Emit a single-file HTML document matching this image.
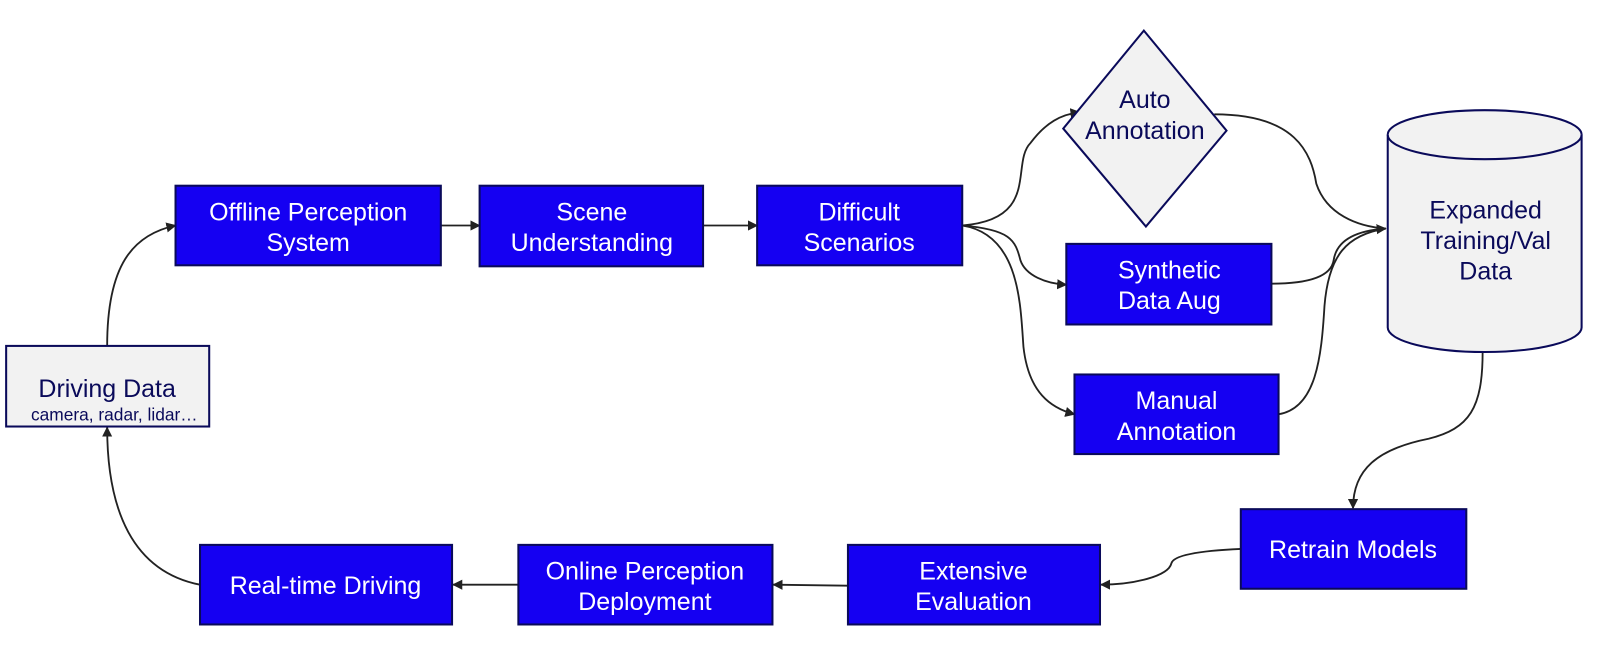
<!DOCTYPE html>
<html><head><meta charset="utf-8"><style>
body{margin:0;background:#fff;}
svg{display:block;}
text{font-family:"Liberation Sans",sans-serif;}
.b{fill:#1500f2;stroke:#0a0a5a;stroke-width:2;}
.g{fill:#f2f2f2;stroke:#0a0a5a;stroke-width:2;}
.w{fill:#fff;font-size:24.5px;text-anchor:middle;}
.n{fill:#0a0a5a;font-size:24.5px;text-anchor:middle;}
.c{fill:none;stroke:#222;stroke-width:1.8;}
</style></head><body>
<svg width="1600" height="671" viewBox="0 0 1568 657.6">
<defs><marker id="a" markerWidth="10" markerHeight="10" refX="9" refY="5" orient="auto" markerUnits="userSpaceOnUse"><path d="M0,0 L10,5 L0,10 z" fill="#222"/></marker></defs>
<path class="c" marker-end="url(#a)" d="M105,339 C105,260 130,230 172,221"/>
<path class="c" marker-end="url(#a)" d="M196,573 C130,560 105,500 105,419"/>
<path class="c" marker-end="url(#a)" d="M432,221 L470,221"/>
<path class="c" marker-end="url(#a)" d="M689,221 L742,221"/>
<path class="c" marker-end="url(#a)" d="M943,221 C1020,215 990,160 1010,140 C1025,120 1040,112 1058,110"/>
<path class="c" marker-end="url(#a)" d="M943,221 C990,225 995,235 1000,255 C1005,270 1025,278 1045,279"/>
<path class="c" marker-end="url(#a)" d="M943,221 C1000,230 1000,300 1003,340 C1008,385 1030,400 1053,406"/>
<path class="c" d="M1190,112 C1270,112 1285,150 1290,180 C1300,210 1330,222 1358,224"/>
<path class="c" marker-end="url(#a)" d="M1246,278 C1290,278 1305,268 1307,255 C1310,235 1330,226 1358,224"/>
<path class="c" d="M1253,406 C1290,400 1295,350 1298,300 C1302,250 1320,230 1358,224"/>
<path class="c" marker-end="url(#a)" d="M1453,345 C1453,400 1440,420 1400,430 C1350,440 1326,460 1326,498"/>
<path class="c" marker-end="url(#a)" d="M1216,538 C1170,540 1150,545 1148,552 C1145,565 1110,573 1079,573"/>
<path class="c" marker-end="url(#a)" d="M831,574 L758,573"/>
<path class="c" marker-end="url(#a)" d="M508,573 L444,573"/>
<rect class="g" x="6" y="339" width="199" height="79"/>
<text class="n" x="105" y="389">Driving Data</text>
<text class="n" x="112" y="412" style="font-size:17px">camera, radar, lidar…</text>
<rect class="b" x="172" y="182" width="260" height="78"/>
<text class="w" x="302" y="216">Offline Perception</text><text class="w" x="302" y="246">System</text>
<rect class="b" x="470" y="182" width="219" height="79"/>
<text class="w" x="580" y="216">Scene</text><text class="w" x="580" y="246">Understanding</text>
<rect class="b" x="742" y="182" width="201" height="78"/>
<text class="w" x="842" y="216">Difficult</text><text class="w" x="842" y="246">Scenarios</text>
<polygon class="g" points="1121,30 1202,128 1123,222 1042,126"/>
<text class="n" x="1122" y="106">Auto</text><text class="n" x="1122" y="136">Annotation</text>
<rect class="b" x="1045" y="239" width="201" height="79"/>
<text class="w" x="1146" y="273">Synthetic</text><text class="w" x="1146" y="303">Data Aug</text>
<rect class="b" x="1053" y="367" width="200" height="78"/>
<text class="w" x="1153" y="401">Manual</text><text class="w" x="1153" y="431">Annotation</text>
<path class="g" d="M1360,132 L1360,321 A95,24 0 0 0 1550,321 L1550,132 A95,24 0 0 0 1360,132 Z"/>
<path class="g" d="M1360,132 A95,24 0 0 0 1550,132"/>
<text class="n" x="1456" y="214">Expanded</text><text class="n" x="1456" y="244">Training/Val</text><text class="n" x="1456" y="274">Data</text>
<rect class="b" x="1216" y="499" width="221" height="78"/>
<text class="w" x="1326" y="547">Retrain Models</text>
<rect class="b" x="831" y="534" width="247" height="78"/>
<text class="w" x="954" y="568">Extensive</text><text class="w" x="954" y="598">Evaluation</text>
<rect class="b" x="508" y="534" width="249" height="78"/>
<text class="w" x="632" y="568">Online Perception</text><text class="w" x="632" y="598">Deployment</text>
<rect class="b" x="196" y="534" width="247" height="78"/>
<text class="w" x="319" y="582">Real-time Driving</text>
</svg>
</body></html>
